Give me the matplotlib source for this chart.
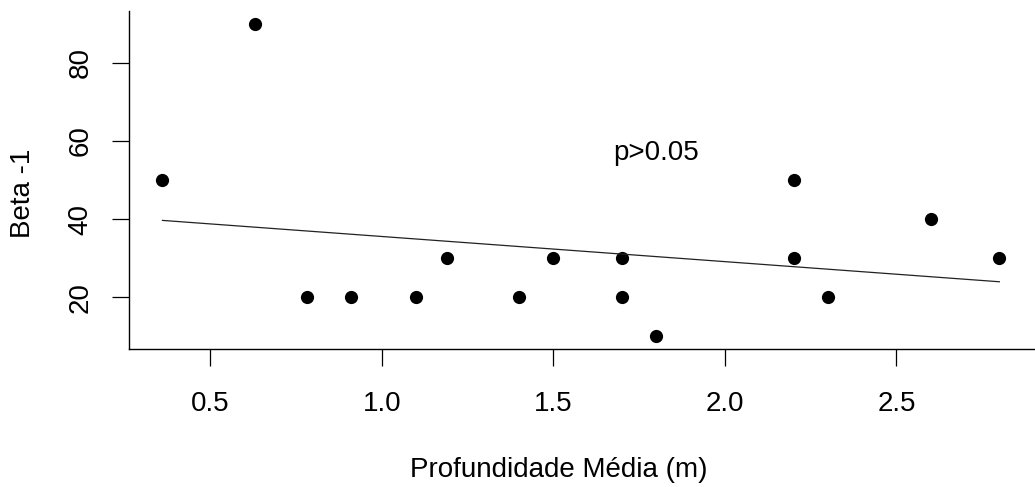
import numpy as np
import matplotlib
matplotlib.use("Agg")
import matplotlib.pyplot as plt

# depth (m) and beta diversity values
profundidade = [0.36, 0.63, 0.78, 0.91, 1.10, 1.19, 1.40, 1.50,
                1.70, 1.70, 1.80, 2.20, 2.20, 2.30, 2.60, 2.80]
beta = [50, 90, 20, 20, 20, 30, 20, 30,
        30, 20, 10, 50, 30, 20, 40, 30]

xticks = [0.5, 1.0, 1.5, 2.0, 2.5]
yticks = [20, 40, 60, 80]

plt.rcParams['font.family'] = ['Liberation Sans', 'DejaVu Sans']

W, H = 1035, 487
fig = plt.figure(figsize=(W / 100, H / 100), dpi=100)
ax = fig.add_axes([129 / W, (H - 349) / H, 906 / W, 338 / H])

x = np.array(profundidade)
y = np.array(beta)

ax.plot(x, y, 'o', color='black', markersize=9.5, markeredgewidth=0)

# linear fit drawn over the data range
b, a = np.polyfit(x, y, 1)
xs = np.array([x.min(), x.max()])
ax.plot(xs, a + b * xs, color='#222222', linewidth=0.9)

ax.text(1.8, 57, "p>0.05", ha='center', va='center', fontsize=20)

ax.set_xlim(0.2624, 2.904)
ax.set_ylim(6.8, 93.2)
ax.set_xticks(xticks)
ax.set_xticklabels(["0.5", "1.0", "1.5", "2.0", "2.5"])
ax.set_yticks(yticks)
ax.set_yticklabels([str(v) for v in yticks], rotation=90, va='center')

for s in ['top', 'right']:
    ax.spines[s].set_visible(False)
for s in ['left', 'bottom']:
    ax.spines[s].set_linewidth(1.0)
ax.tick_params(direction='out', length=12.5, width=0.9, labelsize=20)
ax.tick_params(axis='x', pad=17.5)
ax.tick_params(axis='y', pad=13)

fig.text(559 / W, (H - 477) / H, "Profundidade Média (m)", ha='center',
         va='baseline', fontsize=20)
fig.text(23 / W, (H - 193) / H, "Beta -1", rotation=90, ha='center',
         va='center', fontsize=20)

fig.savefig("out.png", dpi=100)
